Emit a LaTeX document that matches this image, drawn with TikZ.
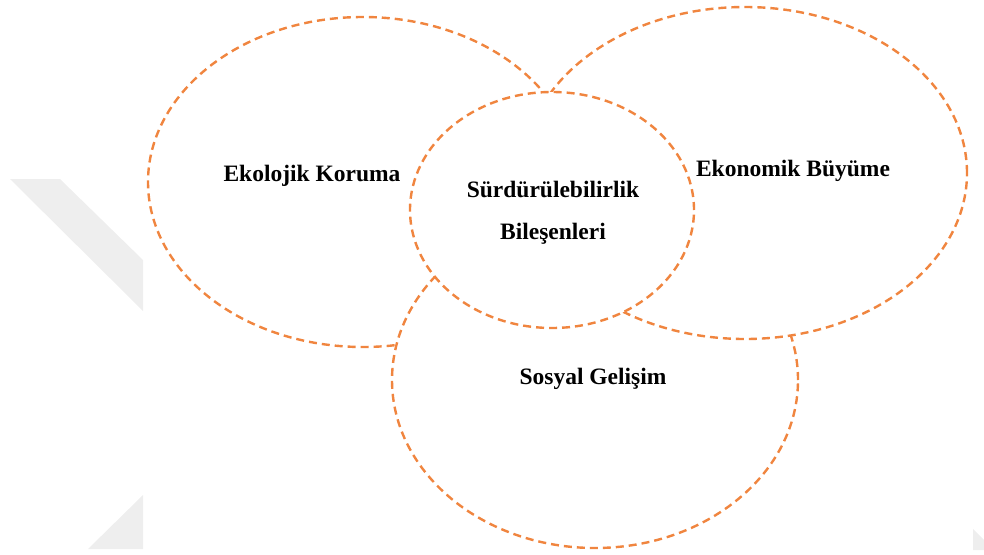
\documentclass[tikz,border=0pt]{standalone}
\usepackage{fontspec}
\setmainfont{Liberation Serif}
\usetikzlibrary{shapes.geometric}
\definecolor{ring}{HTML}{F0853F}
\definecolor{wm}{HTML}{EEEEEE}
\begin{document}
\begin{tikzpicture}[x=1pt,y=-1pt,
  ring/.style={ellipse,draw=ring,line width=2.4pt,dash pattern=on 8pt off 5pt,fill=white,inner sep=0pt,outer sep=0pt},
  lbl/.style={anchor=base,font=\fontsize{23.5}{28}\selectfont\bfseries,inner sep=0pt}]
\useasboundingbox (0,0) rectangle (984,554);
% watermark remnants
\fill[wm] (10,179) -- (60,179) -- (143,260) -- (143,311) -- cycle;
\fill[wm] (88,549) -- (143,495) -- (143,549) -- cycle;
\fill[wm] (973,529) -- (984,540) -- (984,550) -- (973,550) -- cycle;
% rings
\node[ring,minimum width=430pt,minimum height=330pt] (eko) at (363,182) {};
\node[ring,minimum width=406pt,minimum height=336pt] (sos) at (595,380) {};
\node[ring,minimum width=444pt,minimum height=332pt] (ekn) at (745,173) {};
\node[ring,minimum width=284pt,minimum height=236pt] (sur) at (552,210) {};
% labels
\node[lbl] (l1) at (312,181) {Ekolojik Koruma};
\node[lbl] (l2) at (553,197) {Sürdürülebilirlik};
\node[lbl] (l3) at (553,239) {Bileşenleri};
\node[lbl] (l4) at (793,176) {Ekonomik Büyüme};
\node[lbl] (l5) at (593,384) {Sosyal Gelişim};
\end{tikzpicture}
\end{document}
